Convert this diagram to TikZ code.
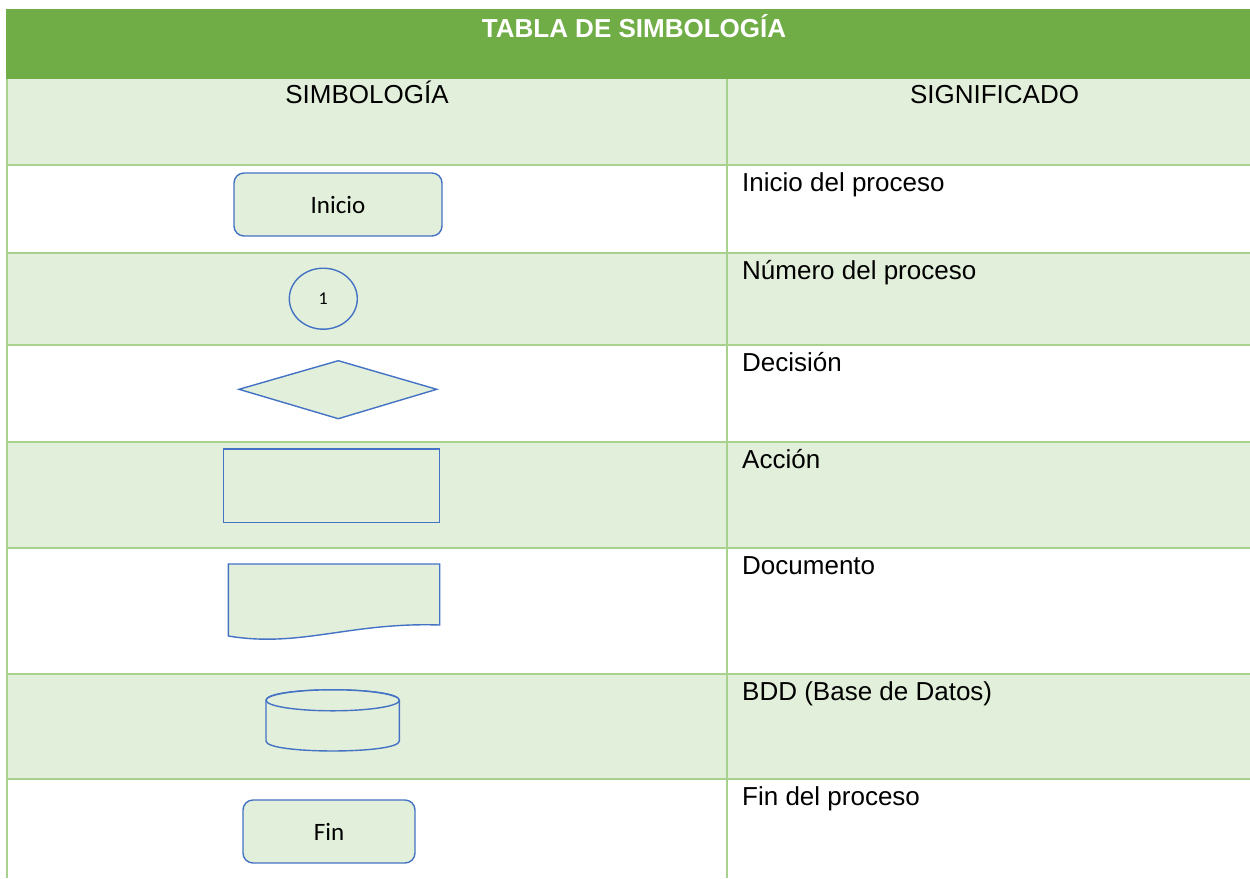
\documentclass[tikz,border=0pt]{standalone}
\usepackage{fontspec}
\setmainfont{Liberation Sans}
\newfontfamily\calib{Carlito}
\usetikzlibrary{shapes.geometric}
\definecolor{hdr}{HTML}{70AD47}
\definecolor{lgreen}{HTML}{E2EFDA}
\definecolor{gridc}{HTML}{A9D18E}
\definecolor{shp}{HTML}{4472C4}
\tikzset{
  symbol/.style={draw=shp, fill=lgreen, line width=1.4pt},
  gridline/.style={draw=gridc, line width=2pt},
  band/.style={fill=lgreen},
  celltext/.style={anchor=base west, inner sep=0pt, font=\fontsize{26}{31}\selectfont},
  headtext/.style={anchor=base, inner sep=0pt, font=\fontsize{26}{31}\selectfont},
  symtext/.style={font=\calib\fontsize{25}{30}\selectfont}
}
\begin{document}
\begin{tikzpicture}[x=1pt,y=-1pt]
\useasboundingbox (0,0) rectangle (1250,878);
\fill[white] (0,0) rectangle (1250,878);
\begin{scope}
\clip (0,0) rectangle (1250,878);
% bands
\fill[hdr] (6,9) rectangle (1262,79);
\fill[band] (6,79) rectangle (1262,165);
\fill[band] (6,253) rectangle (1262,345);
\fill[band] (6,442) rectangle (1262,548);
\fill[band] (6,674) rectangle (1262,779);
% grid
\draw[gridline] (6.5,79) -- (6.5,878);
\draw[gridline] (727,79) -- (727,878);
\foreach \yy in {165,253,345,442,548,674,779}
  \draw[gridline] (6,\yy) -- (1262,\yy);
\end{scope}
% title and headers
\node[headtext, text=white, font=\bfseries\fontsize{26}{31}\selectfont] (title) at (634,37) {TABLA DE SIMBOLOGÍA};
\node[headtext] (h1) at (367,103) {SIMBOLOGÍA};
\node[headtext] (h2) at (994.5,103) {SIGNIFICADO};
% meanings
\node[celltext] (t1) at (742,191) {Inicio del proceso};
\node[celltext] (t2) at (742,279) {Número del proceso};
\node[celltext] (t3) at (742,371) {Decisión};
\node[celltext] (t4) at (742,468) {Acción};
\node[celltext] (t5) at (742,574) {Documento};
\node[celltext] (t6) at (742,700) {BDD (Base de Datos)};
\node[celltext] (t7) at (742,805) {Fin del proceso};
% symbols
\node[symbol, symtext, rounded corners=10pt, minimum width=208pt, minimum height=63pt] (inicio) at (338,204.5) {Inicio};
\node[symbol, ellipse, inner sep=0pt, minimum width=68pt, minimum height=61pt, font=\calib\fontsize{18}{22}\selectfont] (num) at (323.3,298.7) {1};
\draw[symbol] (239,389.3) -- (338.3,360.7) -- (436.7,389.3) -- (338.3,418.7) -- cycle;
\node[symbol, minimum width=216pt, minimum height=73.3pt] (accion) at (331.7,485.7) {};
\draw[symbol] (228.3,564) -- (439.7,564) -- (439.7,625)
  .. controls (350,622) and (300,648) .. (228.3,636) -- cycle;
\draw[symbol] (266,700.3) -- (266,741)
  .. controls (266,754.3) and (399.3,754.3) .. (399.3,741) -- (399.3,700.3)
  .. controls (399.3,686.3) and (266,686.3) .. (266,700.3) -- cycle;
\draw[symbol] (332.7,700.3) ellipse [x radius=66.65, y radius=10.5];
\node[symbol, symtext, rounded corners=10pt, minimum width=172pt, minimum height=63pt] (fin) at (329,831.5) {Fin};
\end{tikzpicture}
\end{document}
